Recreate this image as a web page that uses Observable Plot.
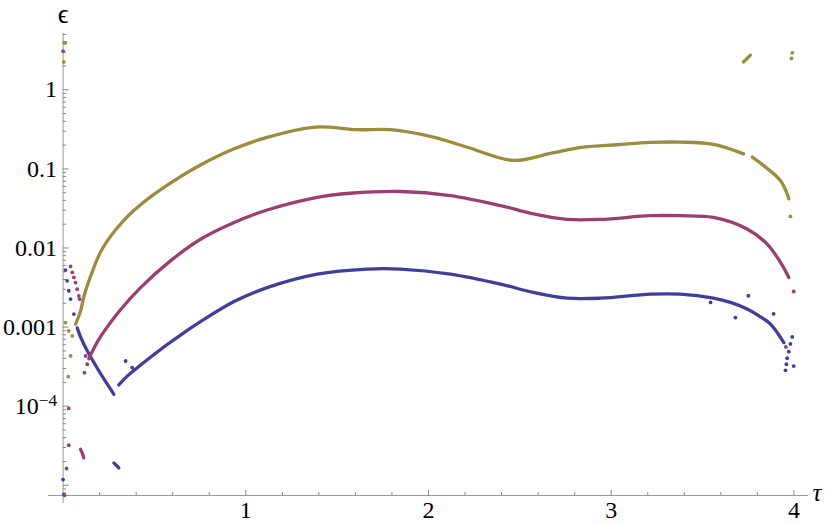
<!DOCTYPE html>
<html><head><meta charset="utf-8">
<script src="https://cdn.jsdelivr.net/npm/d3@7"></script>
<script src="https://cdn.jsdelivr.net/npm/@observablehq/plot@0.6"></script>
<style>body{margin:0;background:#fff} #chart svg text{font-family:"Liberation Serif","Times New Roman",serif !important}</style>
</head><body><div id="chart"></div>
<script>
// ---- data (tau, epsilon) ----
const blueCurveT = [0.077, 0.100, 0.132, 0.187, 0.241, 0.278];
const blueCurveE = [0.000977, 0.000708, 0.000501, 0.000302, 0.000191, 0.000141];
const blueRiseT = [0.305, 0.351, 0.424, 0.496, 0.570, 0.643, 0.752, 0.933, 1.117, 1.391, 1.664, 1.847, 2.120, 2.394, 2.575, 2.759, 2.942, 3.216, 3.379, 3.560, 3.653, 3.744, 3.817, 3.872, 3.945];
const blueRiseE = [0.000186, 0.000240, 0.000331, 0.000447, 0.000603, 0.000794, 0.00117, 0.00209, 0.00316, 0.00468, 0.00542, 0.00542, 0.00468, 0.00350, 0.00274, 0.00232, 0.00232, 0.00261, 0.00261, 0.00232, 0.00205, 0.00169, 0.00135, 0.00109, 0.000637];
const blueLowT = [0.278, 0.292, 0.305];
const blueLowE = [1.92e-5, 1.78e-5, 1.66e-5];
const blueDotsT = [0.013, 0.022, 0.031, 0.041, 0.059, 0.0, 0.004, 0.342, 0.378, 3.544, 3.680, 3.751, 3.889, 3.991, 3.981, 3.972, 3.963, 3.959, 3.999, 3.954];
const blueDotsE = [0.00526, 0.00385, 0.00288, 0.00226, 0.00146, 1.18e-5, 7.62e-6, 0.000373, 0.000307, 0.00205, 0.00132, 0.00249, 0.00147, 0.000752, 0.000612, 0.000489, 0.000404, 0.000339, 0.000322, 0.000284];

const magCurveT = [0.141, 0.168, 0.205, 0.314, 0.424, 0.589, 0.752, 0.933, 1.117, 1.391, 1.573, 1.847, 2.120, 2.394, 2.575, 2.759, 2.942, 3.216, 3.379, 3.560, 3.744, 3.854, 3.909, 3.943, 3.972];
const magCurveE = [0.000398, 0.000537, 0.000759, 0.00166, 0.00316, 0.00692, 0.0129, 0.0209, 0.0302, 0.0437, 0.0492, 0.0518, 0.0460, 0.0344, 0.0270, 0.0230, 0.0230, 0.0256, 0.0256, 0.0244, 0.0174, 0.0112, 0.00760, 0.00568, 0.00424];
const magLowT = [0.095, 0.105, 0.113];
const magLowE = [2.86e-5, 2.55e-5, 2.22e-5];
const magDotsT = [0.041, 0.050, 0.059, 0.068, 0.077, 0.086, 0.090, 0.123, 0.132, 0.117, 0.031, 0.031, 0.019, 0.008, 0.0, 3.999, 3.956];
const magDotsE = [0.00585, 0.00491, 0.00424, 0.00366, 0.00302, 0.00248, 0.00226, 0.000432, 0.000339, 0.000265, 9.38e-5, 3.21e-5, 1.63e-5, 7.46e-6, 3.08, 0.00282, 0.000561];

const goldCurveT = [0.068, 0.095, 0.113, 0.150, 0.205, 0.260, 0.325, 0.385, 0.480, 0.600, 0.752, 0.933, 1.117, 1.381, 1.610, 1.792, 2.027, 2.212, 2.465, 2.668, 2.848, 3.033, 3.215, 3.379, 3.560, 3.724];
const goldCurveE = [0.00109, 0.00158, 0.00240, 0.00437, 0.00891, 0.0141, 0.0214, 0.0295, 0.0447, 0.0692, 0.112, 0.178, 0.251, 0.338, 0.313, 0.313, 0.252, 0.188, 0.128, 0.157, 0.188, 0.202, 0.216, 0.218, 0.204, 0.155];
const goldTailT = [3.772, 3.835, 3.926, 3.963, 3.972];
const goldTailE = [0.141, 0.110, 0.0713, 0.0483, 0.0418];
const goldTopT = [3.724, 3.762];
const goldTopE = [2.25, 2.74];
const goldDotsT = [0.013, 0.031, 0.050, 0.041, 0.028, 0.006, 0.012, 0.004, 3.991, 3.987, 3.981];
const goldDotsE = [0.00114, 0.000895, 0.000774, 0.000432, 0.000236, 3.92, 3.92, 2.25, 2.93, 2.49, 0.0251];

const xTickValues = [1, 2, 3, 4];
const xTickLabels = ["1", "2", "3", "4"];
const yTickValues = [1, 0.1, 0.01, 0.001, 1e-4];
const yTickLabels = ["1", "0.1", "0.01", "0.001", "10^-4"];
const yMajorTicks = [1e-5, 1e-4, 1e-3, 1e-2, 1e-1, 1];

const colors = {blue: "#3f3f9b", mag: "#9b3f72", gold: "#9c8c3e"};
const X_DOMAIN = [-0.08, 4.08];
const Y_DOMAIN = [7.43e-6, 5.15];

function rows(ts, es, seg) { return ts.map((t, i) => ({t, e: es[i], seg})); }

const lineSegs = {
  blue: [...rows(blueCurveT, blueCurveE, "a"), ...rows(blueRiseT, blueRiseE, "b"), ...rows(blueLowT, blueLowE, "c")],
  mag: [...rows(magCurveT, magCurveE, "a"), ...rows(magLowT, magLowE, "b")],
  gold: [...rows(goldCurveT, goldCurveE, "a"), ...rows(goldTailT, goldTailE, "b"), ...rows(goldTopT, goldTopE, "c")]
};
const dotSets = {
  blue: rows(blueDotsT, blueDotsE, "d"),
  mag: rows(magDotsT, magDotsE, "d"),
  gold: rows(goldDotsT, goldDotsE, "d")
};

const xMinor = d3.range(1, 21).map(i => i / 5).filter(v => Math.abs(v - Math.round(v)) > 1e-9);
const yMinor = [];
for (let k = -6; k <= 0; k++) for (let m = 2; m <= 9; m++) {
  const v = m * Math.pow(10, k);
  if (v >= Y_DOMAIN[0] && v <= Y_DOMAIN[1]) yMinor.push(v);
}

const W = 830, H = 525, ML = 48, MR = 22, MT = 33, MB = 30;
const plotW = W - ML - MR, plotH = H - MT - MB;
const axisOffset = (0 - X_DOMAIN[0]) / (X_DOMAIN[1] - X_DOMAIN[0]) * plotW;
const font = "Liberation Serif";
const axisGray = "#9a9a9a";

const marks = [
  Plot.ruleY([Y_DOMAIN[0]], {stroke: axisGray, strokeWidth: 1}),
  Plot.ruleX([0], {stroke: axisGray, strokeWidth: 1, insetBottom: -8}),
  Plot.ruleX(xTickValues, {stroke: "#888", insetTop: plotH - 5}),
  Plot.ruleX(xMinor, {stroke: "#888", insetTop: plotH - 3}),
  Plot.ruleY(yMajorTicks, {stroke: "#888", insetLeft: axisOffset, insetRight: plotW - axisOffset - 6}),
  Plot.ruleY(yMinor, {stroke: "#888", insetLeft: axisOffset, insetRight: plotW - axisOffset - 3.5}),
  Plot.text(xTickValues, {x: d => d, y: () => Y_DOMAIN[0], text: (d, i) => xTickLabels[i], dy: 15, fontSize: 24, fontFamily: font, fill: "#000"}),
  Plot.text(yTickValues, {x: () => 0, y: d => d, text: (d, i) => yTickLabels[i], dx: -6, textAnchor: "end", fontSize: 24, fontFamily: font, fill: "#000"}),
  Plot.text(["ϵ"], {x: () => 0, y: () => Y_DOMAIN[1], text: d => d, dy: -19, fontSize: 27, fontFamily: font, fill: "#000"}),
  Plot.text(["τ"], {x: () => X_DOMAIN[1], y: () => Y_DOMAIN[0], text: d => d, dx: 4, dy: -3, textAnchor: "start", fontSize: 25, fontFamily: font, fontStyle: "italic", fill: "#000"})
];
for (const key of ["blue", "mag", "gold"]) {
  marks.push(Plot.line(lineSegs[key], {x: "t", y: "e", z: "seg", stroke: colors[key], strokeWidth: 3.3, strokeLinecap: "round", curve: "catmull-rom"}));
  marks.push(Plot.dot(dotSets[key], {x: "t", y: "e", r: 1.9, fill: colors[key], stroke: "none"}));
}

const chart = Plot.plot({
  width: W, height: H,
  marginLeft: ML, marginRight: MR, marginTop: MT, marginBottom: MB,
  style: {background: "#fff", overflow: "visible", fontFamily: "Liberation Serif"},
  x: {domain: X_DOMAIN, axis: null},
  y: {type: "log", domain: Y_DOMAIN, axis: null},
  marks
});
document.getElementById("chart").appendChild(chart);

// superscript for 10^-4
d3.select(chart).selectAll("text").each(function() {
  if (this.textContent === "10^-4") {
    const t = d3.select(this);
    t.text("10");
    t.append("tspan").attr("dy", "-0.45em").attr("font-size", "0.72em").text("\u22124");
  }
});
</script>
</body></html>
